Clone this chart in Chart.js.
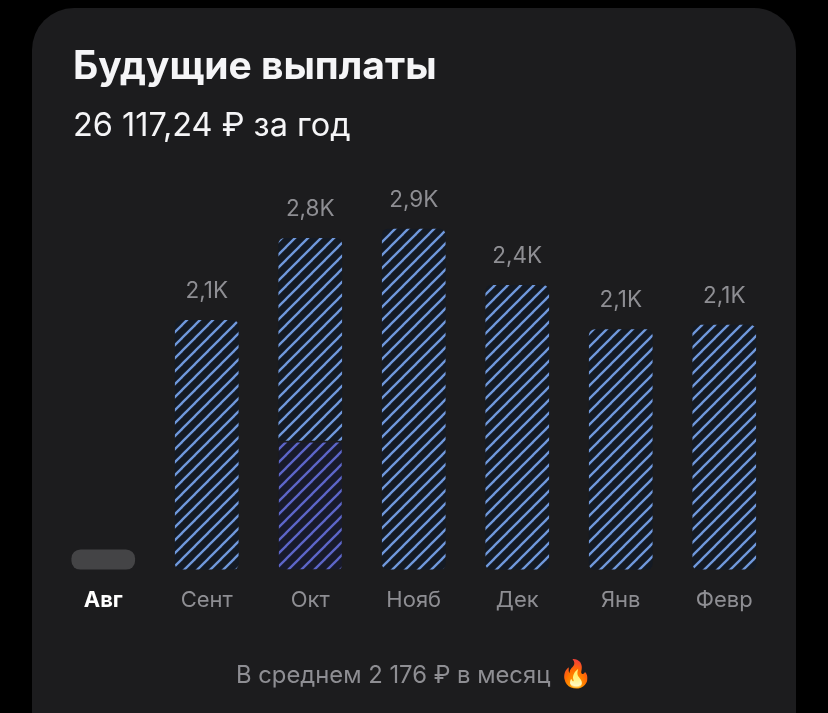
<!DOCTYPE html>
<html>
<head>
<meta charset="utf-8">
<script src="https://cdn.jsdelivr.net/npm/chart.js@4"></script>
<style>
  html, body { margin: 0; height: 100%; background: #000; overflow: hidden; }
  body { font-family: Inter, Roboto, sans-serif; }
  #card { position: absolute; left: 32px; top: 8px; width: 764px; height: 760px; background: #1c1c1e; border-radius: 42px; }
  #chartBox { position: absolute; left: 0; top: 0; width: 828px; height: 713px; }
  .txt { position: absolute; white-space: nowrap; }
  #title { left: 73px; top: 42px; font-size: 39px; line-height: 46px; font-weight: 700; color: #f5f5f7; }
  #sub { left: 73px; top: 105px; font-size: 32.5px; line-height: 40px; color: #f5f5f7; }
  #foot { left: 236px; top: 659px; font-size: 23.8px; line-height: 30px; color: #8e8e93; }
  #foot span { font-size: 27px; line-height: 30px; margin-left: 2px; }
</style>
</head>
<body>
<div id="card"></div>
<div id="chartBox"><canvas id="myChart" width="828" height="713"></canvas></div>
<div class="txt" id="title">Будущие выплаты</div>
<div class="txt" id="sub">26 117,24 ₽ за год</div>
<div class="txt" id="foot">В среднем 2 176 ₽ в месяц <span>🔥</span></div>
<script>
const months = ["Авг", "Сент", "Окт", "Нояб", "Дек", "Янв", "Февр"];
const valueLabels = ["", "2,1K", "2,8K", "2,9K", "2,4K", "2,1K", "2,1K"];
const currentMonth = [170, null, null, null, null, null, null];
const paidPart = [null, null, 1100, null, null, null, null];
const futurePart = [null, 2130, 1730, 2910, 2430, 2050, 2090];

function stripes(line, back) {
  const size = 13;
  const c = document.createElement("canvas");
  c.width = size;
  c.height = size;
  const g = c.getContext("2d");
  g.fillStyle = back;
  g.fillRect(0, 0, size, size);
  g.strokeStyle = line;
  g.lineWidth = 2.3;
  for (const d of [-size, 0, size]) {
    g.beginPath();
    g.moveTo(d - 2, size + 2);
    g.lineTo(d + size + 2, -2);
    g.stroke();
  }
  return g.createPattern(c, "repeat");
}

const valueLabelPlugin = {
  id: "valueLabels",
  afterDatasetsDraw(chart) {
    const { ctx, scales } = chart;
    ctx.save();
    ctx.font = "22.5px Inter, Roboto, sans-serif";
    ctx.fillStyle = "#8e8e93";
    ctx.textAlign = "center";
    ctx.textBaseline = "middle";
    valueLabels.forEach((text, i) => {
      const total = (currentMonth[i] || 0) + (paidPart[i] || 0) + (futurePart[i] || 0);
      ctx.fillText(text, scales.x.getPixelForValue(i), scales.y.getPixelForValue(total) - 29);
    });
    ctx.restore();
  },
};

new Chart(document.getElementById("myChart"), {
  type: "bar",
  data: {
    labels: months,
    datasets: [
      {
        data: currentMonth,
        backgroundColor: "#444446",
        borderRadius: 9,
      },
      {
        data: paidPart,
        backgroundColor: stripes("#5d66c9", "#181a2b"),
        borderColor: "#1c1c1e",
        borderWidth: { top: 2, left: 0, right: 0, bottom: 0 },
        borderRadius: { bottomLeft: 4, bottomRight: 4 },
      },
      {
        data: futurePart,
        backgroundColor: stripes("#7099dd", "#141a24"),
        borderRadius: (c) =>
          paidPart[c.dataIndex] > 0
            ? { topLeft: 6, topRight: 6 }
            : 6,
      },
    ],
  },
  options: {
    responsive: false,
    animation: false,
    layout: { padding: { left: 51.5, right: 52, top: 160, bottom: 89 } },
    plugins: { legend: { display: false }, tooltip: { enabled: false } },
    datasets: { bar: { barThickness: 63, borderSkipped: false } },
    scales: {
      x: {
        stacked: true,
        grid: { display: false },
        border: { display: false },
        ticks: {
          padding: 10,
          color: (c) => (c.index === 0 ? "#ffffff" : "#8e8e93"),
          font: (c) => ({
            family: "Inter, Roboto, sans-serif",
            size: 22,
            weight: c.index === 0 ? "700" : "400",
          }),
          maxRotation: 0,
          autoSkip: false,
        },
      },
      y: {
        stacked: true,
        display: false,
        min: 0,
        max: 3500,
      },
    },
  },
  plugins: [valueLabelPlugin],
});
</script>
</body>
</html>
